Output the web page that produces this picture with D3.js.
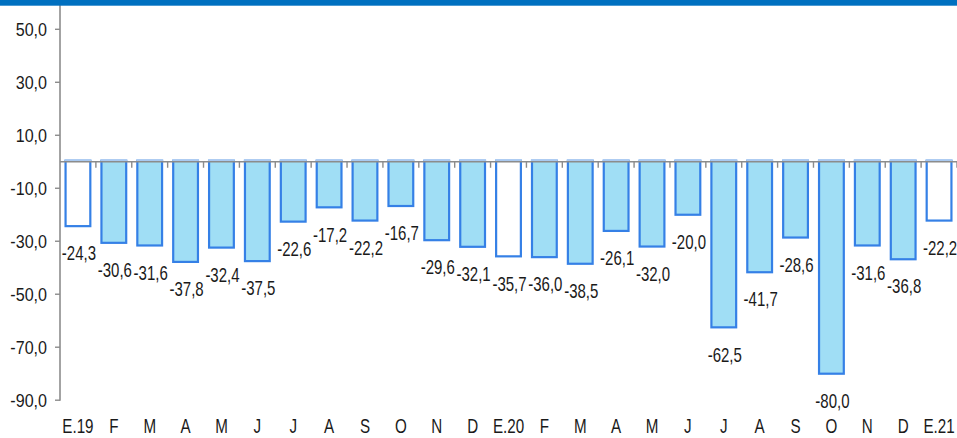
<!DOCTYPE html>
<html>
<head>
<meta charset="utf-8">
<script src="https://cdn.jsdelivr.net/npm/d3@7"></script>
<style>
  html, body { margin: 0; padding: 0; background: #fff; }
  svg { display: block; }
  text { font-family: "Liberation Sans", Arial, sans-serif; fill: #1a1a1a; }
</style>
</head>
<body>
<div id="chart"></div>
<script>
// DATA
var months = ["E.19", "F", "M", "A", "M", "J", "J", "A", "S", "O", "N", "D",
              "E.20", "F", "M", "A", "M", "J", "J", "A", "S", "O", "N", "D", "E.21"];
var values = [-24.3, -30.6, -31.6, -37.8, -32.4, -37.5, -22.6, -17.2, -22.2, -16.7, -29.6, -32.1,
              -35.7, -36.0, -38.5, -26.1, -32.0, -20.0, -62.5, -41.7, -28.6, -80.0, -31.6, -36.8, -22.2];
var yTicks = [50, 30, 10, -10, -30, -50, -70, -90];

var width = 957, height = 438;

// spanish style numbers: 50,0 / -24,3
var locale = d3.formatLocale({ decimal: ",", thousands: ".", grouping: [3], currency: ["", "€"], minus: "-" });
var fmt = locale.format(".1f");

var svg = d3.select("#chart").append("svg")
  .attr("width", width)
  .attr("height", height);

// keys so repeated month letters stay separate bands
var keys = months.map(function(m, i) { return i; });

var x = d3.scaleBand()
  .domain(keys)
  .range([60, 957])
  .paddingInner(0.31)
  .paddingOuter(0.155);

var y = d3.scaleLinear()
  .domain([-90, 50])
  .range([400.2, 29.3]);

var axisColor = "#8c8c8c";

// BARS
var bars = svg.append("g");
bars.selectAll("rect")
  .data(values)
  .enter()
  .append("rect")
  .attr("x", function(d, i) { return x(i); })
  .attr("y", y(0) - 1)
  .attr("width", x.bandwidth())
  .attr("height", function(d) { return y(d) - y(0) + 1; })
  .attr("fill", function(d, i) { return months[i].indexOf("E.") === 0 ? "#ffffff" : "#a0def5"; })
  .attr("stroke", "#3580e6")
  .attr("stroke-width", 2.2);

// light top edge of the bars
bars.selectAll("line")
  .data(values)
  .enter()
  .append("line")
  .attr("x1", function(d, i) { return x(i) - 1; })
  .attr("x2", function(d, i) { return x(i) + x.bandwidth() + 1; })
  .attr("y1", y(0) - 1.5)
  .attr("y2", y(0) - 1.5)
  .attr("stroke", "#a9c9f0")
  .attr("stroke-width", 2);

// Y AXIS
var yAxis = svg.append("g");
yAxis.append("line")
  .attr("x1", 60).attr("x2", 60)
  .attr("y1", 0).attr("y2", y(-90) + 0.5)
  .attr("stroke", axisColor).attr("stroke-width", 1.6);

yAxis.selectAll(".tk")
  .data(yTicks)
  .enter()
  .append("line")
  .attr("x1", 55).attr("x2", 60)
  .attr("y1", function(d) { return y(d); })
  .attr("y2", function(d) { return y(d); })
  .attr("stroke", axisColor).attr("stroke-width", 1.4);

yAxis.selectAll("text")
  .data(yTicks)
  .enter()
  .append("text")
  .attr("transform", function(d) { return "translate(47," + y(d) + ") scale(0.87,1)"; })
  .attr("text-anchor", "end")
  .attr("dy", "0.36em")
  .style("font-size", "18.5px")
  .text(function(d) { return fmt(d); });

// X AXIS at zero
var xAxis = svg.append("g");
xAxis.append("line")
  .attr("x1", 60).attr("x2", width)
  .attr("y1", y(0)).attr("y2", y(0))
  .attr("stroke", axisColor).attr("stroke-width", 1.6);

var bounds = d3.range(1, months.length + 1).map(function(k) { return x.range()[0] + k * x.step(); });
xAxis.selectAll(".tk")
  .data(bounds)
  .enter()
  .append("line")
  .attr("x1", function(d) { return d; })
  .attr("x2", function(d) { return d; })
  .attr("y1", y(0)).attr("y2", y(0) + 6)
  .attr("stroke", axisColor).attr("stroke-width", 1.4);

// category labels along the bottom
svg.append("g").selectAll("text")
  .data(months)
  .enter()
  .append("text")
  .attr("transform", function(d, i) { return "translate(" + (x(i) + x.bandwidth() / 2) + ",433) scale(0.76,1)"; })
  .attr("text-anchor", "middle")
  .style("font-size", "20px")
  .text(function(d) { return d; });

// VALUE LABELS below each bar
svg.append("g").selectAll("text")
  .data(values)
  .enter()
  .append("text")
  .attr("transform", function(d, i) { return "translate(" + (x(i) + x.bandwidth() / 2 + 1) + "," + (y(d) + 27) + ") scale(0.75,1)"; })
  .attr("text-anchor", "middle")
  .attr("dy", "0.36em")
  .style("font-size", "20px")
  .text(function(d) { return fmt(d); });

// top blue band
svg.append("rect")
  .attr("x", 0).attr("y", 0)
  .attr("width", width).attr("height", 5.7)
  .attr("fill", "#0070c0");
</script>
</body>
</html>
